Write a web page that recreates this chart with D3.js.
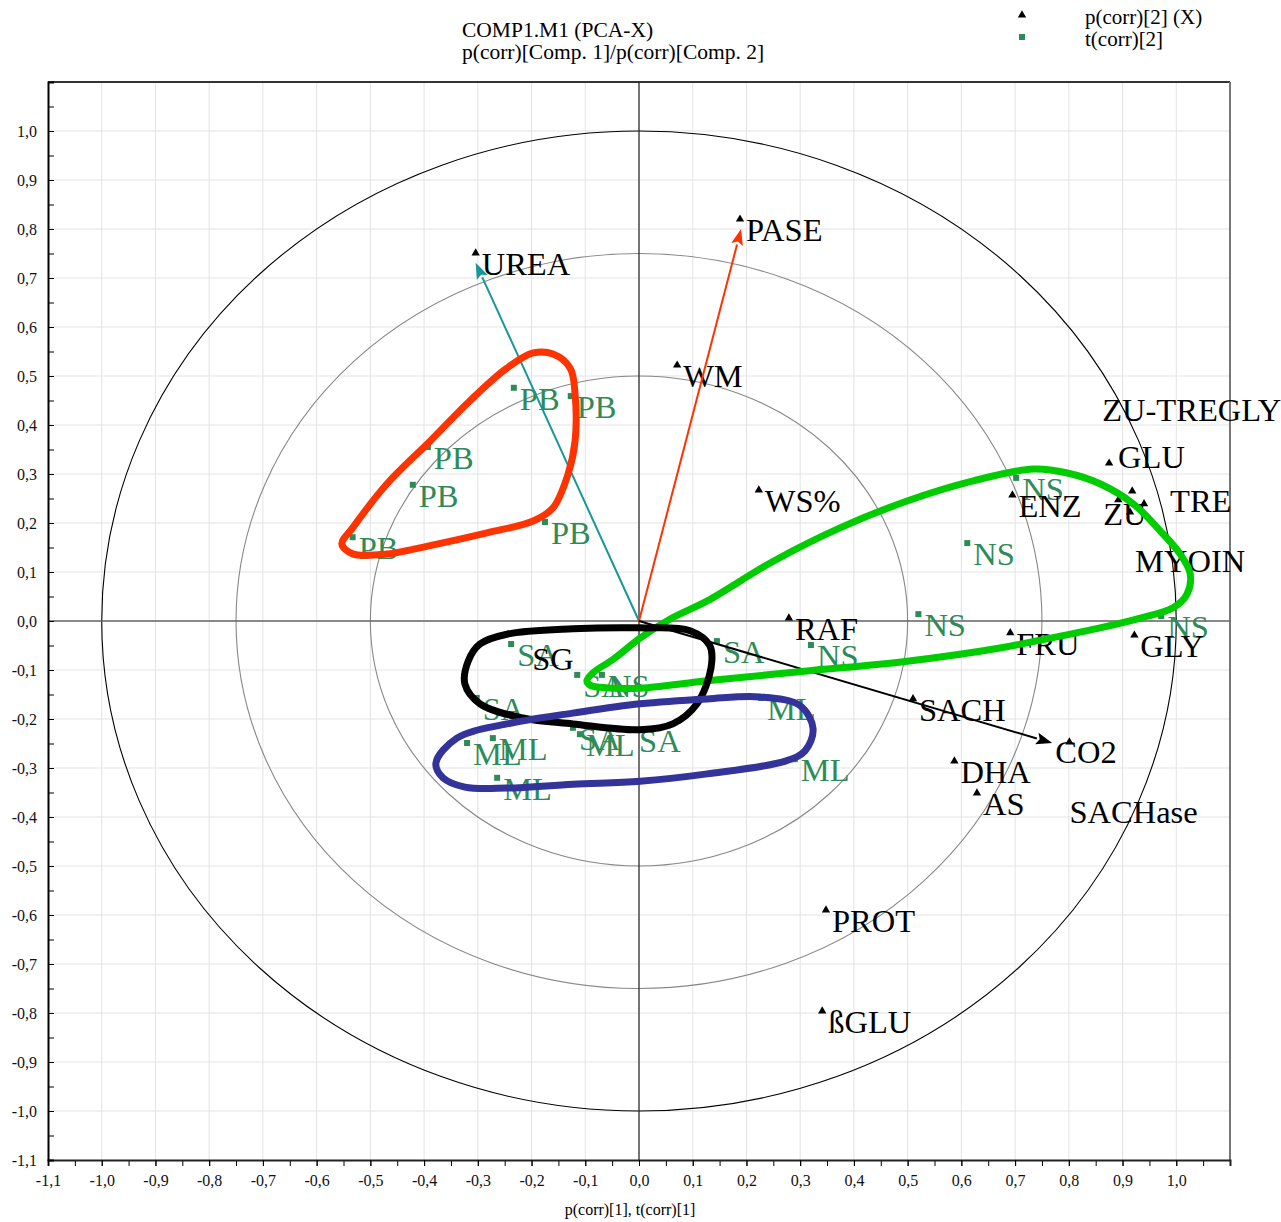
<!DOCTYPE html>
<html lang="en">
<head>
<meta charset="UTF-8">
<title>COMP1.M1 (PCA-X)</title>
<script src="https://cdnjs.cloudflare.com/ajax/libs/d3/7.8.5/d3.min.js"></script>
<style>
  body { margin: 0; background: #fff; }
  svg { display: block; font-family: "Liberation Serif", "Times New Roman", serif; }
</style>
</head>
<body>
<div id="chart"></div>
<script>
// loadings p(corr)[1] / p(corr)[2]  (black triangles)
const loadings = [
  { name: "UREA", x: -0.304, y: 0.751 },
  { name: "PASE", x: 0.188, y: 0.820 },
  { name: "WM", x: 0.071, y: 0.522 },
  { name: "WS%", x: 0.223, y: 0.267 },
  { name: "GLU", x: 0.875, y: 0.322 },
  { name: "ZU-TREGLY", x: 0.918, y: 0.265 },
  { name: "ZU", x: 0.892, y: 0.247 },
  { name: "TRE", x: 0.940, y: 0.239 },
  { name: "MYOIN", x: 0.914, y: 0.222 },
  { name: "ENZ", x: 0.695, y: 0.257 },
  { name: "RAF", x: 0.279, y: 0.006 },
  { name: "FRU", x: 0.691, y: -0.024 },
  { name: "GLY", x: 0.922, y: -0.029 },
  { name: "SACH", x: 0.510, y: -0.159 },
  { name: "CO2", x: 0.801, y: -0.247 },
  { name: "DHA", x: 0.587, y: -0.286 },
  { name: "AS", x: 0.629, y: -0.351 },
  { name: "SACHase", x: 0.790, y: -0.367 },
  { name: "PROT", x: 0.348, y: -0.590 },
  { name: "ßGLU", x: 0.341, y: -0.796 },
  { name: "SG", x: -0.210, y: -0.055 }
];
// loadings whose marker is not visible in the plot
const hiddenMarkers = ["SACHase", "SG"];

// scores t(corr)[1] / t(corr)[2]  (green squares)
const scores = [
  { name: "PB", x: -0.233, y: 0.476 },
  { name: "PB", x: -0.127, y: 0.459 },
  { name: "PB", x: -0.393, y: 0.355 },
  { name: "PB", x: -0.421, y: 0.278 },
  { name: "PB", x: -0.533, y: 0.171 },
  { name: "PB", x: -0.175, y: 0.202 },
  { name: "NS", x: 0.702, y: 0.292 },
  { name: "NS", x: 0.611, y: 0.159 },
  { name: "NS", x: 0.520, y: 0.014 },
  { name: "NS", x: 0.320, y: -0.049 },
  { name: "NS", x: 0.972, y: 0.010 },
  { name: "NS", x: -0.069, y: -0.110 },
  { name: "SA", x: -0.238, y: -0.047 },
  { name: "SA", x: 0.145, y: -0.041 },
  { name: "SA", x: -0.115, y: -0.110 },
  { name: "SA", x: -0.302, y: -0.157 },
  { name: "SA", x: -0.123, y: -0.218 },
  { name: "SA", x: -0.011, y: -0.222 },
  { name: "ML", x: -0.320, y: -0.249 },
  { name: "ML", x: -0.272, y: -0.239 },
  { name: "ML", x: -0.264, y: -0.320 },
  { name: "ML", x: 0.227, y: -0.157 },
  { name: "ML", x: 0.290, y: -0.282 },
  { name: "ML", x: -0.110, y: -0.231 }
];

// arrows from the origin (end points)
const arrows = [
  { x: -0.304, y: 0.731, color: "#17979a" },
  { x: 0.190, y: 0.800, color: "#ff3300" },
  { x: 0.769, y: -0.249, color: "#000000" }
];

// hand drawn group outlines, in plot units
const loopPB = [[-0.553,0.157],[-0.533,0.190],[-0.469,0.280],[-0.389,0.367],[-0.315,0.449],[-0.246,0.516],
  [-0.197,0.547],[-0.160,0.545],[-0.128,0.516],[-0.119,0.463],[-0.119,0.367],[-0.132,0.300],[-0.160,0.231],
  [-0.197,0.204],[-0.283,0.180],[-0.376,0.157],[-0.469,0.137],[-0.533,0.137]];
const loopNS = [[-0.097,-0.122],[-0.086,-0.106],[-0.048,-0.078],[0.002,-0.035],[0.058,0.004],[0.127,0.041],
  [0.250,0.122],[0.374,0.190],[0.499,0.245],[0.622,0.286],[0.734,0.310],[0.797,0.302],[0.858,0.280],
  [0.920,0.239],[0.970,0.184],[1.007,0.137],[1.026,0.096],[1.020,0.055],[0.994,0.027],[0.933,0.006],
  [0.858,-0.014],[0.765,-0.035],[0.672,-0.055],[0.499,-0.082],[0.313,-0.102],[0.127,-0.122],
  [0.002,-0.137],[-0.073,-0.135],[-0.091,-0.131]];
const loopSA = [[-0.324,-0.129],[-0.318,-0.082],[-0.296,-0.047],[-0.246,-0.027],[-0.123,-0.016],[0.002,-0.014],
  [0.095,-0.020],[0.132,-0.051],[0.134,-0.096],[0.108,-0.169],[0.063,-0.210],[0.002,-0.222],
  [-0.123,-0.210],[-0.216,-0.198],[-0.296,-0.169]];
const loopML = [[-0.378,-0.290],[-0.339,-0.239],[-0.246,-0.210],[-0.123,-0.188],[0.002,-0.169],[0.127,-0.159],
  [0.225,-0.155],[0.300,-0.173],[0.324,-0.220],[0.309,-0.265],[0.272,-0.286],[0.127,-0.312],
  [0.002,-0.327],[-0.123,-0.333],[-0.246,-0.341],[-0.324,-0.339],[-0.365,-0.320]];
const loops = [
  { pts: loopPB, color: "#ff3300" },
  { pts: loopNS, color: "#00cc00" },
  { pts: loopSA, color: "#000000" },
  { pts: loopML, color: "#333399" }
];

const circleRadii = [1.0, 0.75, 0.5];
const tickValues = [-1.1, -1.0, -0.9, -0.8, -0.7, -0.6, -0.5, -0.4, -0.3, -0.2, -0.1,
  0.0, 0.1, 0.2, 0.3, 0.4, 0.5, 0.6, 0.7, 0.8, 0.9, 1.0];

// label offsets (px) for crowded labels, default is right/below the marker
const labelShift = {
  "ZU-TREGLY": [-30, -70], "ZU": [-15, 25], "TRE": [26, 8], "MYOIN": [5, 60], "CO2": [-14, 21],
  "GLU": [9, 5]
};

const width = 1281, height = 1222;
const green = "#2e8b57";
const labelSize = 32.5;

const svg = d3.select("#chart").append("svg")
  .attr("width", width).attr("height", height);
svg.append("rect").attr("width", width).attr("height", height).attr("fill", "#fff");

const x = d3.scaleLinear().domain([-1.1, 1.1]).range([48, 1230]);
const y = d3.scaleLinear().domain([-1.1, 1.1]).range([1160, 82]);

const loc = d3.formatLocale({ decimal: ",", thousands: ".", grouping: [3], currency: ["", ""], minus: "-" });
const fmt = loc.format(".1f");

// grid
const grid = svg.append("g").attr("stroke", "#e3e3e3").attr("stroke-width", 1);
tickValues.slice(1).forEach(v => {
  grid.append("line").attr("x1", x(v)).attr("x2", x(v)).attr("y1", y(1.1)).attr("y2", y(-1.1));
  grid.append("line").attr("y1", y(v)).attr("y2", y(v)).attr("x1", x(-1.1)).attr("x2", x(1.1));
});

// frame top/right
svg.append("line").attr("x1", x(-1.1)).attr("x2", x(1.1)).attr("y1", y(1.1)).attr("y2", y(1.1))
  .attr("stroke", "#333").attr("stroke-width", 2);
svg.append("line").attr("x1", x(1.1)).attr("x2", x(1.1)).attr("y1", y(1.1)).attr("y2", y(-1.1))
  .attr("stroke", "#777").attr("stroke-width", 2);

// correlation circles
circleRadii.forEach((r, i) => {
  svg.append("ellipse")
    .attr("cx", x(0)).attr("cy", y(0))
    .attr("rx", x(r) - x(0)).attr("ry", y(0) - y(r))
    .attr("fill", "none")
    .attr("stroke", i === 0 ? "#000" : "#888")
    .attr("stroke-width", 1.1);
});

// zero lines
svg.append("line").attr("x1", x(-1.1)).attr("x2", x(1.1)).attr("y1", y(0)).attr("y2", y(0))
  .attr("stroke", "#666").attr("stroke-width", 1.6);
svg.append("line").attr("x1", x(0)).attr("x2", x(0)).attr("y1", y(1.1)).attr("y2", y(-1.1))
  .attr("stroke", "#222").attr("stroke-width", 1.2);

// axes
const minor = d3.range(-22, 22).map(i => i * 0.05);
const xAxis = svg.append("g").attr("transform", `translate(0,${y(-1.1)})`)
  .call(d3.axisBottom(x).tickValues(minor).tickSize(6).tickFormat(""));
xAxis.select(".domain").remove();
svg.append("g").attr("transform", `translate(0,${y(-1.1)})`)
  .call(d3.axisBottom(x).tickValues(tickValues).tickSize(6).tickPadding(9).tickFormat(fmt))
  .call(g => g.select(".domain").attr("stroke", "#222").attr("stroke-width", 2))
  .call(g => g.selectAll("text").attr("font-size", 16).attr("font-family", "Liberation Serif").attr("fill", "#111"));

const yAxis = svg.append("g").attr("transform", `translate(${x(-1.1)},0)`)
  .call(d3.axisLeft(y).tickValues(minor).tickSize(-6).tickFormat(""));
yAxis.select(".domain").remove();
svg.append("g").attr("transform", `translate(${x(-1.1)},0)`)
  .call(d3.axisLeft(y).tickValues(tickValues).tickSize(-6).tickPadding(11).tickFormat(fmt))
  .call(g => g.select(".domain").attr("stroke", "#000").attr("stroke-width", 2))
  .call(g => g.selectAll("text").attr("font-size", 16).attr("font-family", "Liberation Serif").attr("fill", "#111"));

// titles
svg.append("text").attr("x", 462).attr("y", 37).attr("font-size", 21.5).text("COMP1.M1 (PCA-X)");
svg.append("text").attr("x", 462).attr("y", 59).attr("font-size", 21.5).text("p(corr)[Comp. 1]/p(corr)[Comp. 2]");
svg.append("text").attr("x", 630).attr("y", 1215).attr("text-anchor", "middle").attr("font-size", 16)
  .text("p(corr)[1], t(corr)[1]");

// legend
const tri = d3.symbol(d3.symbolTriangle, 30);
svg.append("path").attr("d", tri()).attr("transform", "translate(1022,15)").attr("fill", "#000");
svg.append("rect").attr("x", 1019).attr("y", 34).attr("width", 6).attr("height", 6).attr("fill", green);
svg.append("text").attr("x", 1085).attr("y", 24).attr("font-size", 21).text("p(corr)[2] (X)");
svg.append("text").attr("x", 1085).attr("y", 46).attr("font-size", 21).text("t(corr)[2]");

// score labels and markers
const sc = svg.append("g");
sc.selectAll("rect").data(scores).join("rect")
  .attr("x", d => x(d.x) - 3).attr("y", d => y(d.y) - 3)
  .attr("width", 6).attr("height", 6).attr("fill", green);
sc.selectAll("text").data(scores).join("text")
  .attr("x", d => x(d.x) + 6).attr("y", d => y(d.y) + 22)
  .attr("font-size", labelSize).attr("fill", green).text(d => d.name);

// loading labels and markers
const ld = svg.append("g");
ld.selectAll("path").data(loadings.filter(d => !hiddenMarkers.includes(d.name))).join("path")
  .attr("d", tri()).attr("fill", "#000")
  .attr("transform", d => `translate(${x(d.x)},${y(d.y)})`);
ld.selectAll("text").data(loadings).join("text")
  .attr("x", d => x(d.x) + (labelShift[d.name] ? labelShift[d.name][0] : 6))
  .attr("y", d => y(d.y) + (labelShift[d.name] ? labelShift[d.name][1] : 22))
  .attr("font-size", labelSize).attr("fill", "#000").text(d => d.name);

// arrows
arrows.forEach(a => {
  const x0 = x(0), y0 = y(0), x1 = x(a.x), y1 = y(a.y);
  const ang = Math.atan2(y1 - y0, x1 - x0);
  const hl = 16, hw = 6;
  const bx = x1 - hl * Math.cos(ang), by = y1 - hl * Math.sin(ang);
  svg.append("line").attr("x1", x0).attr("y1", y0).attr("x2", bx).attr("y2", by)
    .attr("stroke", a.color).attr("stroke-width", 2);
  const px = -Math.sin(ang) * hw, py = Math.cos(ang) * hw;
  svg.append("path")
    .attr("d", `M${x1},${y1}L${bx + px},${by + py}L${bx + 3 * Math.cos(ang)},${by + 3 * Math.sin(ang)}L${bx - px},${by - py}Z`)
    .attr("fill", a.color);
});

// group outlines
const loopLine = d3.line().x(d => x(d[0])).y(d => y(d[1])).curve(d3.curveCatmullRomClosed.alpha(0.5));
svg.append("g").selectAll("path").data(loops).join("path")
  .attr("d", d => loopLine(d.pts))
  .attr("fill", "none").attr("stroke", d => d.color)
  .attr("stroke-width", 7).attr("stroke-linejoin", "round");
</script>
</body>
</html>
